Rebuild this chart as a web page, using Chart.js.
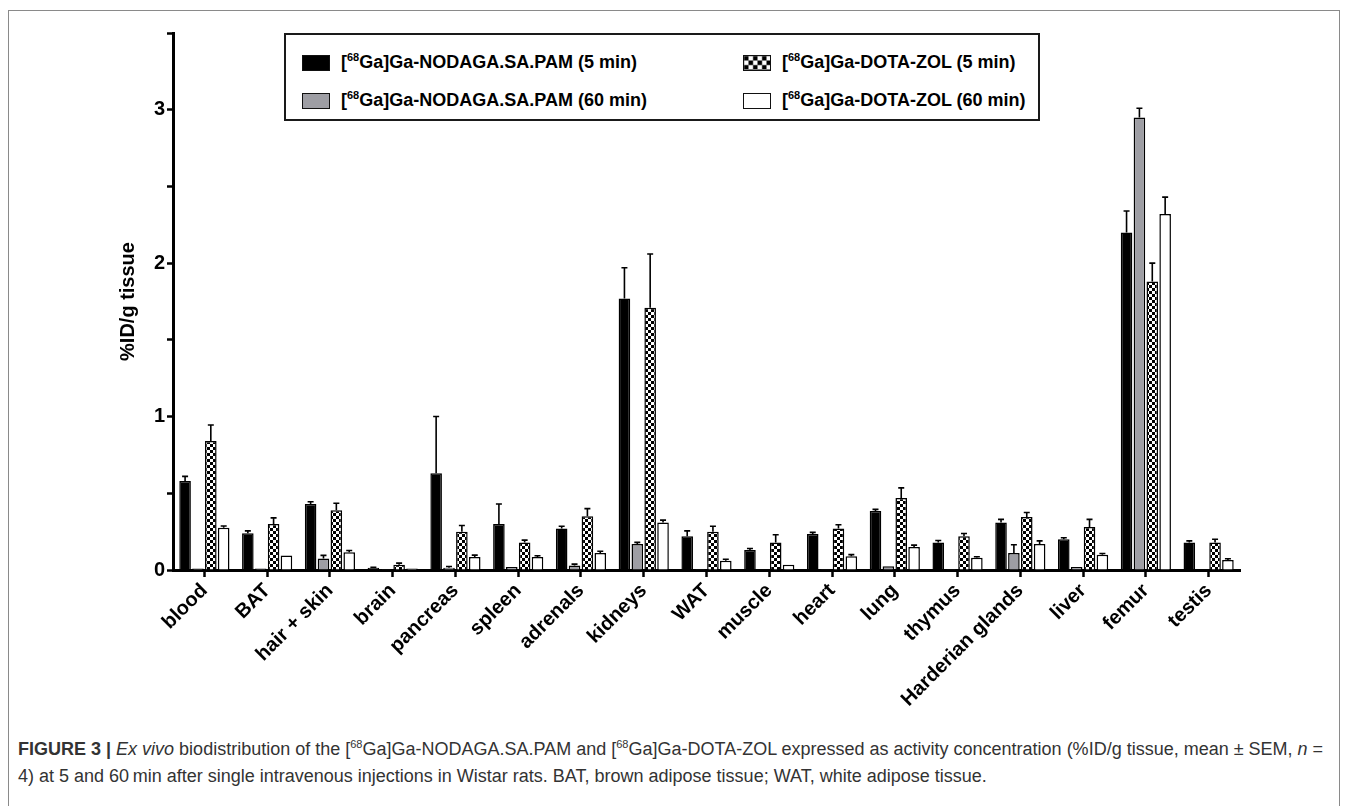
<!DOCTYPE html>
<html lang="en">
<head>
  <meta charset="UTF-8">
  <title>Ex vivo biodistribution</title>
  <script src="https://cdn.jsdelivr.net/npm/chart.js"></script>
  <style>
    body {
      margin: 0;
      background: #fff;
      font-family: 'Liberation Sans', Arial, sans-serif;
      color: #000;
    }
    .page {
      position: relative;
      width: 1346px;
      height: 806px;
      overflow: hidden;
    }
    .frame {
      position: absolute;
      left: 8px;
      top: 10px;
      width: 1330px;
      height: 820px;
      border: 1px solid #8a8a8a;
    }
    #chartWrap {
      position: absolute;
      left: 0;
      top: 0;
      width: 1346px;
      height: 720px;
    }
    .legend {
      position: absolute;
      left: 284px;
      top: 33px;
      width: 752px;
      height: 84px;
      border: 2px solid #1a1a1a;
      background: #fff;
      font-weight: bold;
      font-size: 18px;
    }
    .item {
      position: absolute;
      display: flex;
      align-items: center;
      white-space: nowrap;
    }
    .sw {
      width: 26px;
      height: 14px;
      border: 1.5px solid #111;
      margin-right: 11px;
    }
    .item sup { font-size: 11px; vertical-align: 7px; line-height: 0; }
    .caption {
      position: absolute;
      left: 18px;
      top: 736px;
      font-size: 18px;
      line-height: 27px;
      color: #333;
      white-space: nowrap;
    }
    .caption sup { font-size: 11px; vertical-align: 7px; line-height: 0; }
  </style>
</head>
<body>
<div class="page">
  <div class="frame"></div>
  <div id="chartWrap"><canvas id="bioChart" width="1346" height="720"></canvas></div>
  <div class="legend" id="legend"></div>
  <div class="caption">
    <b>FIGURE 3 |</b> <i>Ex vivo</i> biodistribution of the [<sup>68</sup>Ga]Ga-NODAGA.SA.PAM and [<sup>68</sup>Ga]Ga-DOTA-ZOL expressed as activity concentration (%ID/g tissue, mean ± SEM, <i>n</i> =<br>
    4) at 5 and 60&#8201;min after single intravenous injections in Wistar rats. BAT, brown adipose tissue; WAT, white adipose tissue.
  </div>
</div>
<script>
  const tissues = ['blood', 'BAT', 'hair + skin', 'brain', 'pancreas', 'spleen', 'adrenals', 'kidneys', 'WAT',
    'muscle', 'heart', 'lung', 'thymus', 'Harderian glands', 'liver', 'femur', 'testis'];

  const seriesNames = ['Ga-NODAGA.SA.PAM (5 min)', 'Ga-NODAGA.SA.PAM (60 min)', 'Ga-DOTA-ZOL (5 min)', 'Ga-DOTA-ZOL (60 min)'];

  // mean %ID/g
  const nodaga5  = [0.58, 0.24, 0.43, 0.015, 0.63, 0.30, 0.27, 1.77, 0.22, 0.13, 0.235, 0.385, 0.18, 0.31, 0.20, 2.20, 0.18];
  const nodaga60 = [0.01, 0.01, 0.075, 0.005, 0.015, 0.02, 0.03, 0.17, 0.005, 0.002, 0.005, 0.025, 0.005, 0.11, 0.02, 2.95, 0.002];
  const zol5     = [0.84, 0.30, 0.39, 0.035, 0.25, 0.18, 0.35, 1.71, 0.25, 0.18, 0.27, 0.47, 0.22, 0.345, 0.28, 1.88, 0.18];
  const zol60    = [0.275, 0.095, 0.115, 0.01, 0.085, 0.085, 0.11, 0.31, 0.06, 0.035, 0.09, 0.15, 0.08, 0.17, 0.10, 2.32, 0.065];

  // SEM
  const nodaga5Err  = [0.03, 0.015, 0.015, 0.003, 0.37, 0.13, 0.015, 0.20, 0.035, 0.01, 0.01, 0.01, 0.012, 0.02, 0.01, 0.14, 0.01];
  const nodaga60Err = [0, 0, 0.02, 0, 0.008, 0, 0.008, 0.01, 0, 0, 0, 0, 0, 0.055, 0, 0.06, 0];
  const zol5Err     = [0.105, 0.04, 0.045, 0.01, 0.04, 0.015, 0.05, 0.35, 0.035, 0.05, 0.025, 0.065, 0.018, 0.03, 0.05, 0.12, 0.02];
  const zol60Err    = [0.012, 0, 0.012, 0, 0.012, 0.008, 0.012, 0.015, 0.01, 0, 0.01, 0.012, 0.006, 0.02, 0.008, 0.11, 0.008];

  const yTickLabels = ['0', '1', '2', '3'];

  // checker fill
  const tile = document.createElement('canvas');
  tile.width = 6; tile.height = 6;
  const tctx = tile.getContext('2d');
  tctx.fillStyle = '#fff'; tctx.fillRect(0, 0, 6, 6);
  tctx.fillStyle = '#000'; tctx.fillRect(0, 0, 3, 3); tctx.fillRect(3, 3, 3, 3);

  const ctx = document.getElementById('bioChart').getContext('2d');
  const checker = ctx.createPattern(tile, 'repeat');

  const fills = ['#000000', '#9e9ea4', checker, '#ffffff'];
  const values = [nodaga5, nodaga60, zol5, zol60];
  const errors = [nodaga5Err, nodaga60Err, zol5Err, zol60Err];

  // html legend (needs superscripts)
  const legend = document.getElementById('legend');
  const swatchCss = ['background:#000', 'background:#9e9ea4', 'background:url(' + tile.toDataURL() + ');background-size:9px 9px', 'background:#fff'];
  const pos = [[16, 17], [16, 55], [457, 17], [457, 55]];
  seriesNames.forEach((name, i) => {
    const d = document.createElement('div');
    d.className = 'item';
    d.style.left = pos[i][0] + 'px';
    d.style.top = pos[i][1] + 'px';
    d.innerHTML = `<span class="sw" style="${swatchCss[i]}"></span><span>[<sup>68</sup>Ga]${name}</span>`;
    legend.appendChild(d);
  });

  const errorBars = {
    id: 'errorBars',
    afterDatasetsDraw(chart) {
      const c = chart.ctx;
      const y = chart.scales.y;
      c.save();
      c.strokeStyle = '#000';
      c.lineWidth = 1.6;
      chart.data.datasets.forEach((ds, i) => {
        const meta = chart.getDatasetMeta(i);
        meta.data.forEach((bar, j) => {
          const e = ds.errors[j];
          if (!e) return;
          const top = y.getPixelForValue(ds.data[j] + e);
          c.beginPath();
          c.moveTo(bar.x, bar.y);
          c.lineTo(bar.x, top);
          c.moveTo(bar.x - 3, top);
          c.lineTo(bar.x + 3, top);
          c.stroke();
        });
      });
      c.restore();
    }
  };

  new Chart(ctx, {
    type: 'bar',
    data: {
      labels: tissues,
      datasets: values.map((v, i) => ({
        label: seriesNames[i],
        data: v,
        errors: errors[i],
        backgroundColor: fills[i],
        borderColor: '#000',
        borderWidth: 1.5,
        categoryPercentage: 0.82,
        barPercentage: 0.9
      }))
    },
    options: {
      responsive: false,
      animation: false,
      layout: { padding: { top: 33, right: 106, left: 0, bottom: 0 } },
      plugins: { legend: { display: false }, tooltip: { enabled: false } },
      scales: {
        x: {
          grid: { display: true, offset: false, drawOnChartArea: false, drawTicks: true, tickLength: 7, tickWidth: 2.5, tickColor: '#000' },
          border: { display: true, color: '#000', width: 3 },
          ticks: {
            color: '#000',
            font: { family: 'Liberation Sans', weight: 'bold', size: 20 },
            minRotation: 45, maxRotation: 45, autoSkip: false, padding: 2
          },
          afterFit(scale) { scale.height = 150; }
        },
        y: {
          min: 0, max: 3.5,
          grid: { display: true, drawOnChartArea: false, drawTicks: true, tickLength: 6, tickWidth: 2.5, tickColor: '#000' },
          border: { display: true, color: '#000', width: 3 },
          ticks: {
            stepSize: 0.5,
            color: '#000',
            padding: 2,
            font: { family: 'Liberation Sans', weight: 'bold', size: 20 },
            callback: v => Number.isInteger(v) ? yTickLabels[v] : ''
          },
          title: {
            display: true,
            text: '%ID/g tissue',
            color: '#000',
            font: { family: 'Liberation Sans', weight: 'bold', size: 20 },
            padding: { top: 116, bottom: 0 }
          },
          afterFit(scale) { scale.width = 173; }
        }
      }
    },
    plugins: [errorBars]
  });
</script>
</body>
</html>
